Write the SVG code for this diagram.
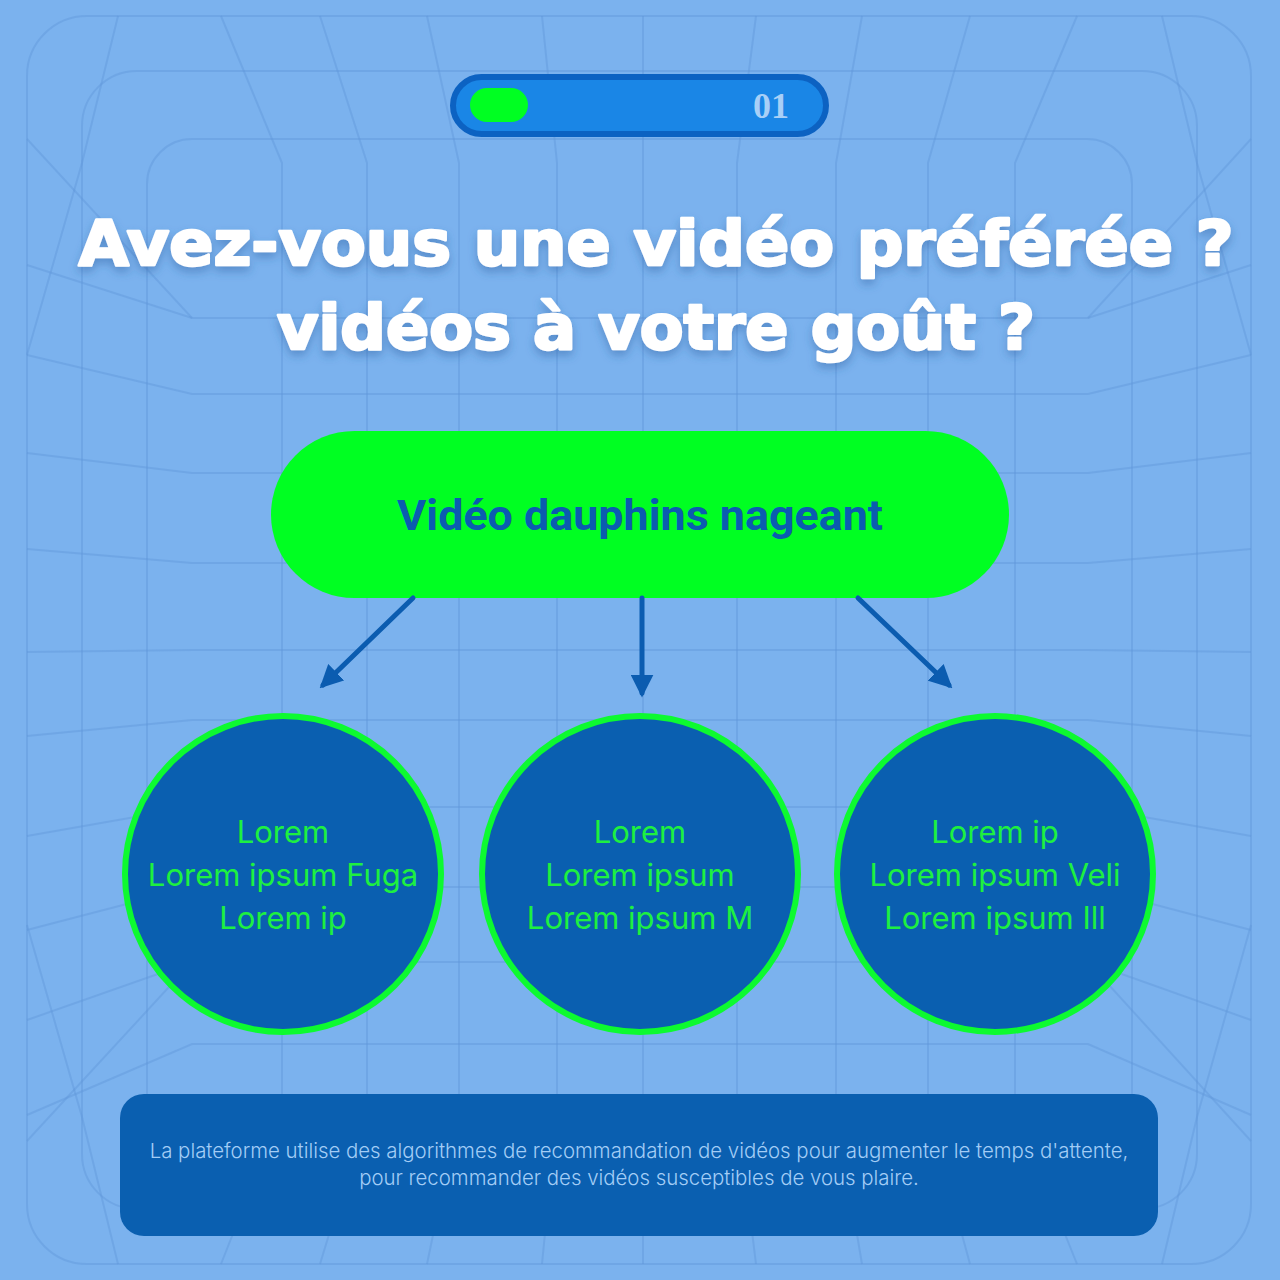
<svg xmlns="http://www.w3.org/2000/svg" width="1280" height="1280" viewBox="0 0 1280 1280">
  <defs>
    <style>
      .grid { fill: none; stroke: #5f97da; stroke-opacity: 0.42; stroke-width: 2; }
      .title { font-family: "DejaVu Sans", "Liberation Sans", sans-serif; font-weight: bold; font-size: 62px; fill: #ffffff; stroke: #ffffff; stroke-width: 2.6; stroke-linejoin: round; text-anchor: middle; }
      .circle { fill: #0a5fb0; stroke: #0dfa30; stroke-width: 6; }
      .ctext { font-family: Inter, "Noto Sans", sans-serif; font-size: 31px; fill: #1ef040; text-anchor: middle; }
      .conn { stroke: #0b5cb0; stroke-width: 5; fill: none; stroke-linecap: round; }
      .foot { font-family: Inter, "Noto Sans", sans-serif; font-weight: 300; font-size: 20.4px; fill: #a3cdf6; text-anchor: middle; }
    </style>
    <marker id="arrow" viewBox="0 0 10 10" refX="8" refY="5" markerWidth="4.6" markerHeight="4.6" orient="auto" markerUnits="strokeWidth">
      <path d="M0,0 L10,5 L0,10 Z" fill="#0b5cb0"/>
    </marker>
    <filter id="shadow" x="-10%" y="-30%" width="120%" height="160%">
      <feDropShadow dx="0" dy="5" stdDeviation="5" flood-color="#2f5f9f" flood-opacity="0.45"/>
    </filter>
  </defs>

  <rect width="1280" height="1280" fill="#7bb2ee"/>

  <g id="background-grid">
    <rect class="grid" x="27" y="16" width="1224" height="1248" rx="60"/>
    <rect class="grid" x="82" y="71" width="1115" height="1138" rx="55"/>
    <rect class="grid" x="147" y="139" width="985" height="1000" rx="45"/>
    <path class="grid" d="M221,16 L282,163 L282,1110 L221,1264"/>
    <path class="grid" d="M320,16 L367,163 L367,1110 L320,1264"/>
    <path class="grid" d="M427,16 L459,163 L459,1110 L427,1264"/>
    <path class="grid" d="M542,16 L557,163 L557,1110 L542,1264"/>
    <path class="grid" d="M643,16 L643,163 L643,1110 L643,1264"/>
    <path class="grid" d="M756,16 L737,163 L737,1110 L756,1264"/>
    <path class="grid" d="M862,16 L836,163 L836,1110 L862,1264"/>
    <path class="grid" d="M970,16 L928,163 L928,1110 L970,1264"/>
    <path class="grid" d="M1077,16 L1015,163 L1015,1110 L1077,1264"/>
    <path class="grid" d="M27,265 L192,318 L1088,318 L1251,265"/>
    <path class="grid" d="M27,355 L192,394 L1088,394 L1251,355"/>
    <path class="grid" d="M27,453 L192,473 L1088,473 L1251,453"/>
    <path class="grid" d="M27,549 L192,563 L1088,563 L1251,549"/>
    <path class="grid" d="M27,652 L192,650 L1088,650 L1251,652"/>
    <path class="grid" d="M27,736 L192,720 L1088,720 L1251,736"/>
    <path class="grid" d="M27,836 L192,807 L1088,807 L1251,836"/>
    <path class="grid" d="M27,930 L192,887 L1088,887 L1251,930"/>
    <path class="grid" d="M27,1020 L192,962 L1088,962 L1251,1020"/>
    <path class="grid" d="M27,1115 L192,1044 L1088,1044 L1251,1115"/>
    <path class="grid" d="M118,16 L82,163 L27,355"/>
    <path class="grid" d="M1162,16 L1197,163 L1251,355"/>
    <path class="grid" d="M118,1264 L82,1117 L27,925"/>
    <path class="grid" d="M1162,1264 L1197,1117 L1251,925"/>
    <path class="grid" d="M27,139 L192,318"/>
    <path class="grid" d="M1251,139 L1088,318"/>
    <path class="grid" d="M27,1141 L192,962"/>
    <path class="grid" d="M1251,1141 L1088,962"/>
  </g>

  <g id="progress-bar">
    <rect x="453" y="77" width="373" height="57" rx="28.5" fill="#1a86e6" stroke="#0c62c2" stroke-width="6"/>
    <rect x="470" y="88" width="58" height="34" rx="17" fill="#00ff22"/>
    <text x="771" y="118" font-family="Liberation Serif, serif" font-weight="bold" font-size="36" fill="#a8cff7" text-anchor="middle">01</text>
  </g>

  <g id="title" filter="url(#shadow)">
    <text class="title" x="656" y="265" textLength="1155" lengthAdjust="spacingAndGlyphs">Avez-vous une vidéo préférée ?</text>
    <text class="title" x="656" y="349" textLength="758" lengthAdjust="spacingAndGlyphs">vidéos à votre goût ?</text>
  </g>

  <g id="node-main">
    <rect x="271" y="431" width="738" height="167" rx="83.5" fill="#00ff22"/>
    <text x="640" y="530" font-family="Roboto, Inter, sans-serif" font-weight="bold" font-size="43" fill="#0b5cb0" text-anchor="middle" textLength="486" lengthAdjust="spacingAndGlyphs">Vidéo dauphins nageant</text>
  </g>

  <g id="connectors">
    <line class="conn" x1="413" y1="598" x2="323" y2="685" marker-end="url(#arrow)"/>
    <line class="conn" x1="642" y1="598" x2="642" y2="693" marker-end="url(#arrow)"/>
    <line class="conn" x1="858" y1="598" x2="949" y2="685" marker-end="url(#arrow)"/>
  </g>

  <g id="node-left">
    <circle class="circle" cx="283" cy="874" r="158"/>
    <text class="ctext" x="283" y="843">Lorem</text>
    <text class="ctext" x="283" y="886">Lorem ipsum Fuga</text>
    <text class="ctext" x="283" y="929">Lorem ip</text>
  </g>

  <g id="node-middle">
    <circle class="circle" cx="640" cy="874" r="158"/>
    <text class="ctext" x="640" y="843">Lorem</text>
    <text class="ctext" x="640" y="886">Lorem ipsum</text>
    <text class="ctext" x="640" y="929">Lorem ipsum M</text>
  </g>

  <g id="node-right">
    <circle class="circle" cx="995" cy="874" r="158"/>
    <text class="ctext" x="995" y="843">Lorem ip</text>
    <text class="ctext" x="995" y="886">Lorem ipsum Veli</text>
    <text class="ctext" x="995" y="929">Lorem ipsum Ill</text>
  </g>

  <g id="footer">
    <rect x="120" y="1094" width="1038" height="142" rx="24" fill="#0a5fb0"/>
    <text class="foot" x="639" y="1158">La plateforme utilise des algorithmes de recommandation de vidéos pour augmenter le temps d'attente,</text>
    <text class="foot" x="639" y="1185">pour recommander des vidéos susceptibles de vous plaire.</text>
  </g>
</svg>
